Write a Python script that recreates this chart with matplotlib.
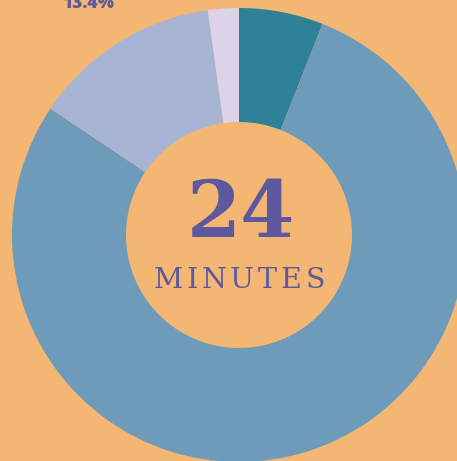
import matplotlib
matplotlib.use("Agg")
import matplotlib.pyplot as plt

# shares of the 24 minutes, clockwise from 12 o'clock
labels = ["a", "b", "c", "d"]
shares = [6.0, 78.4, 13.4, 2.2]
colors = ["#2E8196", "#6E9BBA", "#A8B4D4", "#DCD3E8"]
shown_label = "13.4%"
center_num = "24"
center_unit = "MINUTES"

bg = "#F3B673"
purple = "#5E589E"

fig = plt.figure(figsize=(4.57, 4.61), dpi=100, facecolor=bg)
ax = fig.add_axes([0, 0, 1, 1])
ax.set_facecolor(bg)

cx, cy, r_out, r_in = 239, 461 - 235, 227, 113
ax.pie(shares, colors=colors, startangle=90, counterclock=False,
       center=(cx, cy), radius=r_out, frame=True,
       wedgeprops=dict(width=r_out - r_in, linewidth=0))
ax.set_xlim(0, 457)
ax.set_ylim(0, 461)
ax.set_aspect("equal")
ax.axis("off")

ax.text(88, 461 - 8, shown_label, ha="center", va="baseline",
        fontsize=12.5, fontweight="heavy", family="Open Sans", color=purple)

ax.text(cx + 2, 461 - 237, center_num, ha="center", va="baseline",
        fontsize=56, fontweight="bold", family="DejaVu Serif", color=purple)

# spaced-out unit word: place letters one by one with tracking
renderer = fig.canvas.get_renderer()
tracking = 3.8
chars = []
widths = []
for ch in center_unit:
    t = ax.text(0, 461 - 288, ch, ha="left", va="baseline",
                fontsize=20.5, family="DejaVu Serif", color=purple)
    widths.append(t.get_window_extent(renderer).width)
    chars.append(t)
total = sum(widths) + tracking * (len(chars) - 1)
x = cx - total / 2
for t, w in zip(chars, widths):
    t.set_x(x)
    x += w + tracking

fig.savefig("out.png", dpi=100, facecolor=bg)
